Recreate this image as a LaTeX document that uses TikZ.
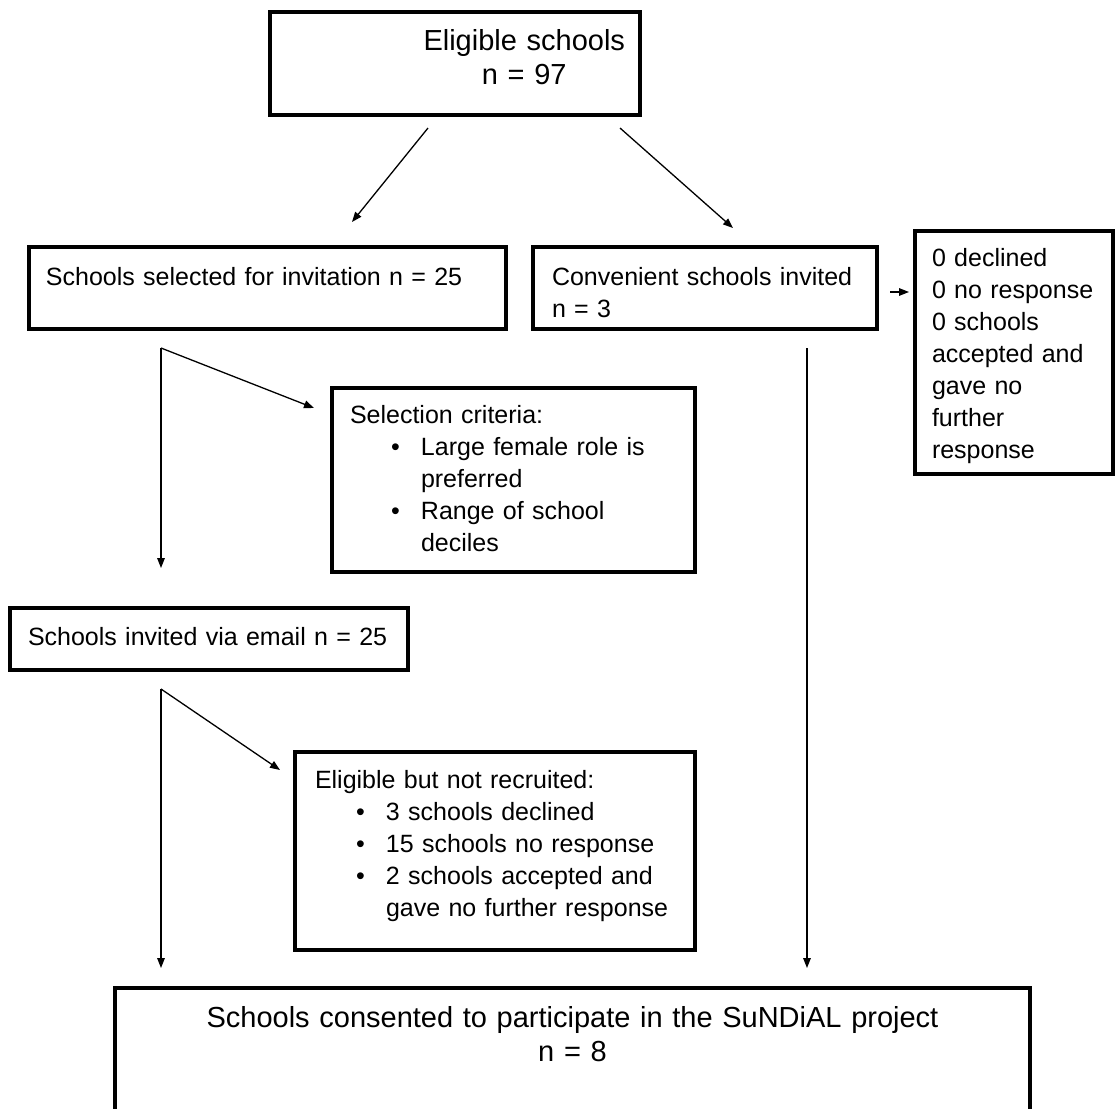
\documentclass[tikz,border=0pt]{standalone}
\usepackage{fontspec}
\setmainfont{Liberation Sans}
\usetikzlibrary{positioning}
\usetikzlibrary{arrows.meta}

\newcommand{\bodysize}{\fontsize{12.5pt}{16pt}\selectfont}
\newcommand{\headsize}{\fontsize{14.5pt}{17pt}\selectfont}
\newcommand{\bitem}[1]{\par\hangindent=35.5pt\hangafter=1\noindent\hspace*{20.5pt}\makebox[15pt][l]{\textbullet}#1\par}

\begin{document}
\begin{tikzpicture} [x=0.5pt, y=-0.5pt, >={Triangle[length=5pt,width=3.8pt]},
        box/.style = {draw, line width=1.8pt, anchor=north west, outer sep=0pt, inner ysep=0pt, align=left, font=\bodysize},
        arr/.style = {->, line width=0.65pt}]
        \useasboundingbox (0,0) rectangle (1115,1109);

        %boxes
        \node[box, font=\headsize, align=right, inner xsep=7.5pt, text width=170pt, text height=19pt, text depth=32.5pt] (eligible) at (270,12)
            {\begin{tabular}[t]{@{}c@{}}Eligible schools\\ n = 97\end{tabular}};

        \node[box, inner xsep=8.5pt, text width=221.5pt, text height=19pt, text depth=22pt] (sel) at (29,247)
            {Schools selected for invitation n = 25};
        \node[box, inner xsep=9.5pt, text width=153pt, text height=19pt, text depth=22pt] (conv) [right = 13.5pt of sel]
            {Convenient schools invited\\ n = 3};

        \node[box, inner xsep=8.5pt, text width=82pt, text height=17.5pt, text depth=104pt] (zero) at (915,231)
            {0 declined\\ 0 no response\\ 0 schools\\ accepted and\\ gave no\\ further\\ response};

        \node[box, inner xsep=9pt, text width=163.5pt, text height=17.5pt, text depth=74.5pt] (criteria) at (332,388)
            {Selection criteria:\bitem{Large female role is\newline preferred}\bitem{Range of school\newline deciles}};

        \node[box, inner xsep=9pt, text width=181pt, text height=18.5pt, text depth=12.5pt] (email) at (10,608)
            {Schools invited via email n = 25};

        \node[box, inner xsep=10pt, text width=180pt, text height=18pt, text depth=81pt] (notrec) at (295,752)
            {Eligible but not recruited:\bitem{3 schools declined}\bitem{15 schools no response}\bitem{2 schools accepted and\newline gave no further response}};

        \node[box, font=\headsize, align=center, inner xsep=10pt, text width=437.5pt, text height=19.5pt, text depth=51pt] (final) at (115,988)
            {Schools consented to participate in the SuNDiAL project\\ n = 8};

        %arrow ends
        \coordinate (elL) at (428,128);
        \coordinate (selT) at (352,222);
        \coordinate (elR) at (620,128);
        \coordinate (convT) at (733,228);
        \coordinate (convR) at (890,292);
        \coordinate (zeroL) at (909,292);
        \coordinate (selB) at (161,348);
        \coordinate (critL) at (314,408);
        \coordinate (emailT) at (161,568);
        \coordinate (emailB) at (161,689);
        \coordinate (notrecL) at (280,770);
        \coordinate (finalL) at (161,968);
        \coordinate (convB) at (807,348);
        \coordinate (finalR) at (807,968);

        %arrows
        \draw[arr] (elL) -- (selT);
        \draw[arr] (elR) -- (convT);
        \draw[arr] (convR) -- (zeroL);
        \draw[arr] (selB) -- (critL);
        \draw[arr] (selB) -- (emailT);
        \draw[arr] (emailB) -- (notrecL);
        \draw[arr] (emailB) -- (finalL);
        \draw[arr] (convB) -- (finalR);

    \end{tikzpicture}
\end{document}
